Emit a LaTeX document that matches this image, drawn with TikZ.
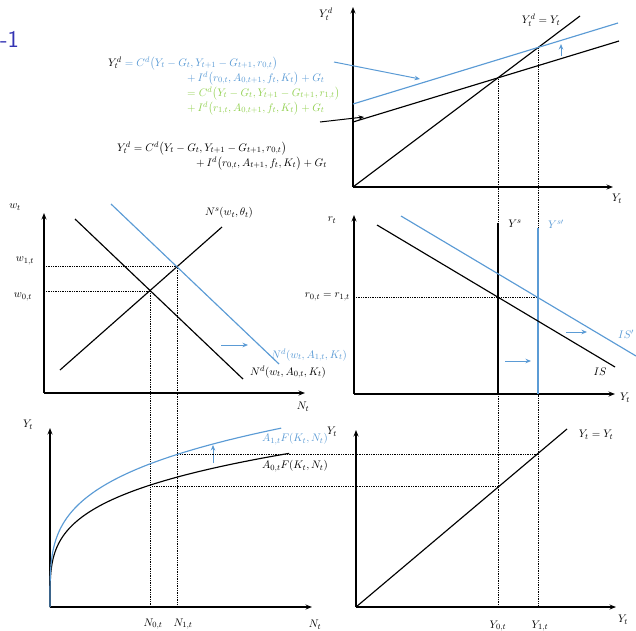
\documentclass[tikz,border=0pt]{standalone}
\usepackage{amsmath}
\usetikzlibrary{arrows.meta}
\definecolor{cblue}{HTML}{5B9BD5}
\definecolor{cgreen}{HTML}{92D050}
\definecolor{ctitle}{HTML}{3333B3}
\begin{document}
\begin{tikzpicture}[x=1pt,y=-1pt,
  axis/.style={line width=1.4pt,-{Stealth[length=6.5pt,width=5pt]}},
  curve/.style={line width=1.15pt},
  bcurve/.style={line width=1.15pt,cblue},
  guide/.style={densely dotted,line width=0.75pt},
  lbl/.style={font=\fontsize{11}{13}\selectfont,inner sep=1pt},
  eq/.style={font=\fontsize{11}{15}\selectfont,inner sep=0pt,anchor=base west,align=left},
  shiftarrow/.style={cblue,line width=1pt,-{Stealth[length=5.5pt,width=4.5pt]}}
]
\useasboundingbox (0,0) rectangle (636,630);

% title fragment
\node[anchor=east,inner sep=0pt,text=ctitle,font=\sffamily\fontsize{24}{28}\selectfont] (ttl) at (19,39) {-1};

% equations (base anchor = baseline of the last line)
\node[eq] (eqtop) at (108,111) {$Y_t^d \color{cblue}= C^d\bigl(Y_t-G_t,Y_{t+1}-G_{t+1},r_{0,t}\bigr)$\\
\hspace*{79pt}{\color{cblue}$+\,I^d\bigl(r_{0,t},A_{0,t+1},f_t,K_t\bigr)+G_t$}\\
\hspace*{79pt}{\color{cgreen}$=C^d\bigl(Y_t-G_t,Y_{t+1}-G_{t+1},r_{1,t}\bigr)$}\\
\hspace*{79pt}{\color{cgreen}$+\,I^d\bigl(r_{1,t},A_{0,t+1},f_t,K_t\bigr)+G_t$}};
\node[eq] (eqbot) at (117,166) {$Y_t^d = C^d\bigl(Y_t-G_t,Y_{t+1}-G_{t+1},r_{0,t}\bigr)$\\
\hspace*{79pt}$+\,I^d\bigl(r_{0,t},A_{t+1},f_t,K_t\bigr)+G_t$};

% ---------- top right: goods market ----------
\coordinate (O1) at (353,187);
\coordinate (O1y) at (353,7);
\coordinate (O1x) at (613,187);
\coordinate (L45) at (580,16);
\coordinate (YdA) at (353,122);
\coordinate (YdB) at (619,41);
\coordinate (YdbA) at (353,104);
\coordinate (YdbB) at (618,23);
\coordinate (E0) at (498,79);
\coordinate (E1) at (538,48);
\coordinate (UpA) at (561,56);
\coordinate (UpB) at (561,44);
\coordinate (BlA) at (334,62);
\coordinate (BlB) at (420,79);
\coordinate (BkA) at (320,122);
\coordinate (BkB) at (364,117);

% dotted guides (drawn first)
\coordinate (G0b) at (498,607);
\coordinate (G1b) at (538,607);
\draw[guide] (E0) -- (G0b);
\draw[guide] (E1) -- (G1b);

\draw[axis] (O1) -- (O1y);
\draw[axis] (O1) -- (O1x);
\draw[curve] (O1) -- (L45);
\draw[curve] (YdA) -- (YdB);
\draw[bcurve] (YdbA) -- (YdbB);
\draw[shiftarrow] (UpA) -- (UpB);
\draw[shiftarrow] (BlA) -- (BlB);
\draw[line width=1pt,-{Stealth[length=5.5pt,width=4.5pt]}] (BkA) -- (BkB);
\node[lbl] (lY1) at (326,14) {$Y_t^d$};
\node[lbl] (lX1) at (617,199) {$Y_t$};
\node[lbl] (l45) at (541,20) {$Y_t^d=Y_t$};

% ---------- middle left: labour market ----------
\coordinate (O2) at (44,393);
\coordinate (O2y) at (44,213);
\coordinate (O2x) at (305,393);
\coordinate (NsA) at (60,370);
\coordinate (NsB) at (222,227);
\coordinate (NdA) at (75,219);
\coordinate (NdB) at (243,379);
\coordinate (NdbA) at (111,204);
\coordinate (NdbB) at (279,364);
\coordinate (W0) at (150,291);
\coordinate (W1) at (177,266);
\coordinate (W0a) at (44,291);
\coordinate (W1a) at (44,266);
\coordinate (N0b) at (150,607);
\coordinate (N1b) at (177,607);
\coordinate (RA) at (221,345);
\coordinate (RB) at (248,345);

\draw[guide] (W0a) -- (W0);
\draw[guide] (W1a) -- (W1);
\draw[guide] (W0) -- (N0b);
\draw[guide] (W1) -- (N1b);
\draw[axis] (O2) -- (O2y);
\draw[axis] (O2) -- (O2x);
\draw[curve] (NsA) -- (NsB);
\draw[curve] (NdA) -- (NdB);
\draw[bcurve] (NdbA) -- (NdbB);
\draw[shiftarrow] (RA) -- (RB);
\node[lbl] (lw) at (15,207) {$w_t$};
\node[lbl] (lw1) at (25,261) {$w_{1,t}$};
\node[lbl] (lw0) at (23,297) {$w_{0,t}$};
\node[lbl] (lNs) at (229,213) {$N^s(w_t,\theta_t)$};
\node[lbl,anchor=west] (lNd) at (249,372) {$N^d(w_t,A_{0,t},K_t)$};
\node[lbl,anchor=west,text=cblue] (lNdb) at (270,355) {$N^d(w_t,A_{1,t},K_t)$};
\node[lbl] (lN2) at (303,407) {$N_t$};

% ---------- middle right: IS / Ys ----------
\coordinate (O3) at (354,394);
\coordinate (O3y) at (354,215);
\coordinate (O3x) at (615,394);
\coordinate (YsA) at (498,394);
\coordinate (YsB) at (498,223);
\coordinate (YsbA) at (538,394);
\coordinate (YsbB) at (538,228);
\coordinate (ISA) at (377,225);
\coordinate (ISB) at (615,367);
\coordinate (ISbA) at (401,216);
\coordinate (ISbB) at (636,356);
\coordinate (R0) at (354,297);
\coordinate (R1) at (538,297);
\coordinate (SA) at (566,332);
\coordinate (SB) at (587,332);
\coordinate (TA) at (505,361);
\coordinate (TB) at (531,361);

\draw[guide] (R0) -- (R1);
\draw[axis] (O3) -- (O3y);
\draw[axis] (O3) -- (O3x);
\draw[curve] (YsA) -- (YsB);
\draw[bcurve] (YsbA) -- (YsbB);
\draw[curve] (ISA) -- (ISB);
\draw[bcurve] (ISbA) -- (ISbB);
\draw[shiftarrow] (SA) -- (SB);
\draw[shiftarrow] (TA) -- (TB);
\node[lbl] (lr) at (332,220) {$r_t$};
\node[lbl,anchor=east] (lr01) at (351,297) {$r_{0,t}=r_{1,t}$};
\node[lbl] (lYs) at (515,224) {$Y^s$};
\node[lbl,text=cblue] (lYsb) at (556,224) {$Y^{s\prime}$};
\node[lbl,text=cblue] (lISb) at (626,334) {$IS'$};
\node[lbl] (lIS) at (600,372) {$IS$};
\node[lbl] (lX3) at (625,398) {$Y_t$};

% ---------- bottom left: production ----------
\coordinate (O4) at (50,607);
\coordinate (O4y) at (50,428);
\coordinate (O4x) at (312,607);
\coordinate (UA) at (213,463);
\coordinate (UB) at (213,445);

\draw[axis] (O4) -- (O4y);
\draw[axis] (O4) -- (O4x);
\draw[curve] (O4) -- plot[domain=0.02:1,samples=80,smooth] ({50+240*\x*\x*\x},{607-35.8*pow(240*\x*\x*\x,0.266)});
\draw[bcurve] (O4) -- plot[domain=0.02:1,samples=80,smooth] ({50+232*\x*\x*\x},{607-42.05*pow(232*\x*\x*\x,0.266)});
\draw[shiftarrow] (UA) -- (UB);
\node[lbl] (lY4) at (28,425) {$Y_t$};
\node[lbl,anchor=west,text=cblue] (lF1) at (261,439) {$A_{1,t}F(K_t,N_t)$};
\node[lbl,anchor=west] (lF0) at (261,466) {$A_{0,t}F(K_t,N_t)$};
\node[lbl] (lN0) at (153,624) {$N_{0,t}$};
\node[lbl] (lN1) at (183,624) {$N_{1,t}$};
\node[lbl] (lN4) at (315,625) {$N_t$};

% ---------- bottom right: 45 degree ----------
\coordinate (O5) at (356,607);
\coordinate (O5y) at (356,430);
\coordinate (O5x) at (616,607);
\coordinate (L45b) at (567,429);
\coordinate (Q1) at (538,454);
\coordinate (Q0) at (498,486);
\coordinate (P0s) at (152,486);
\coordinate (P1s) at (180,454);

\draw[guide] (P1s) -- (Q1);
\draw[guide] (P0s) -- (Q0);
\draw[axis] (O5) -- (O5y);
\draw[axis] (O5) -- (O5x);
\draw[curve] (O5) -- (L45b);
\node[lbl] (lY5) at (332,432) {$Y_t$};
\node[lbl] (l45b) at (596,435) {$Y_t=Y_t$};
\node[lbl] (lY0) at (498,626) {$Y_{0,t}$};
\node[lbl] (lY1b) at (540,626) {$Y_{1,t}$};
\node[lbl] (lX5) at (623,620) {$Y_t$};
\end{tikzpicture}
\end{document}
